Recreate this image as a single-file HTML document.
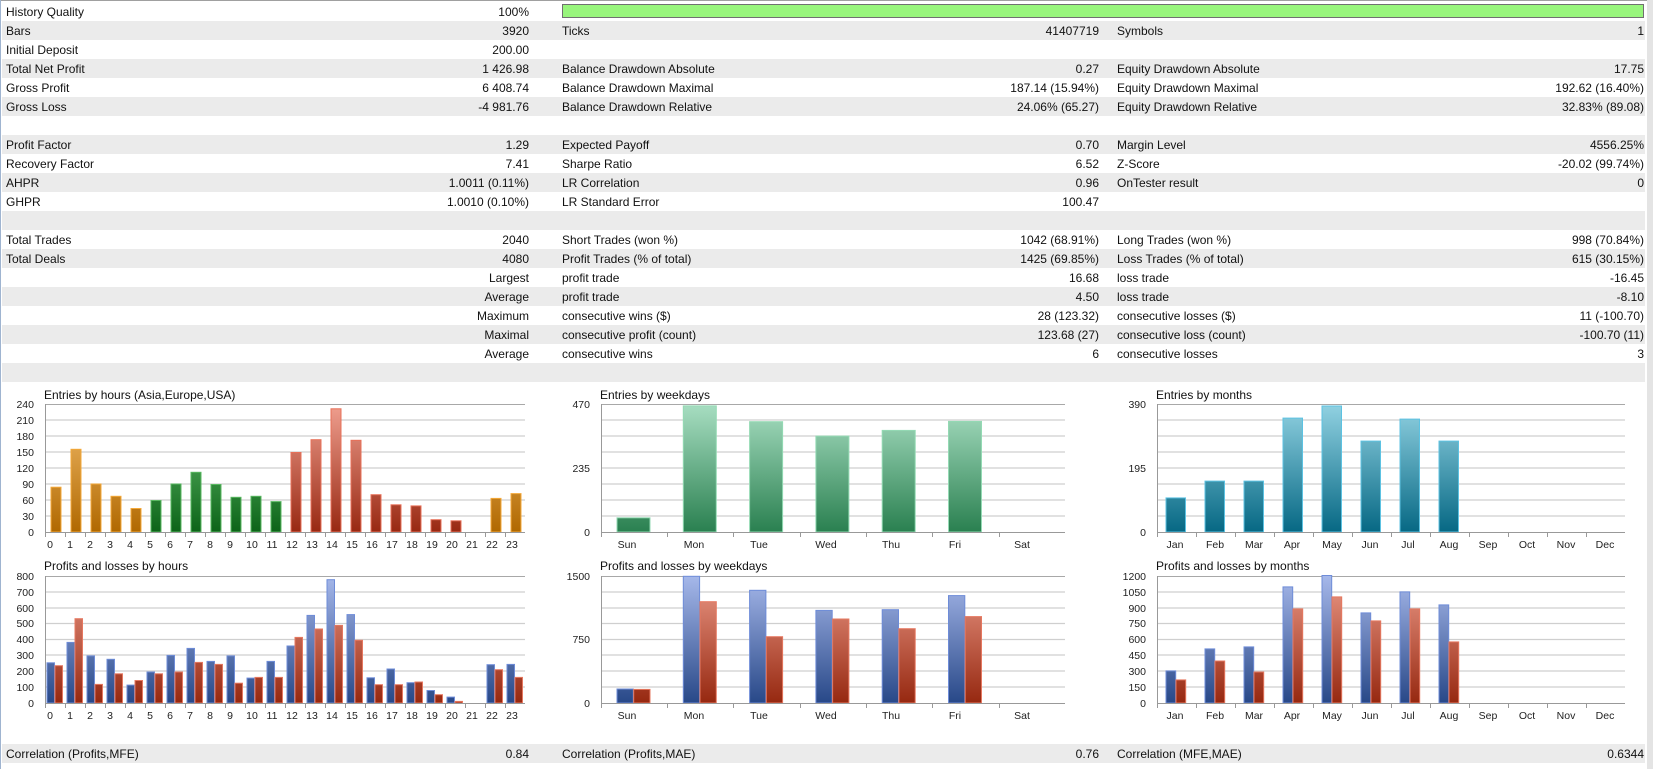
<!DOCTYPE html>
<html><head><meta charset="utf-8"><style>
html,body{margin:0;padding:0;background:#fff;width:1653px;height:769px;overflow:hidden}
svg{display:block;font-family:"Liberation Sans",Arial,sans-serif}
.t{font-size:12px;fill:#111}
.r{text-anchor:end}
.a{font-size:10.5px;fill:#222}
.ar{font-size:10.5px;fill:#222;text-anchor:end}
.am{font-size:10.5px;fill:#222;text-anchor:middle}
.g{stroke:#cfcfcf;stroke-width:1.3}
.gt{stroke:#a8a8a8;stroke-width:1}
.ax{stroke:#999;stroke-width:1;fill:none}
</style></head><body>
<svg width="1653" height="769" viewBox="0 0 1653 769">
<defs>
<linearGradient id="or" gradientUnits="userSpaceOnUse" x1="0" y1="404" x2="0" y2="532"><stop offset="0" stop-color="#f6c070"/><stop offset="1" stop-color="#b06800"/></linearGradient>
<linearGradient id="gr" gradientUnits="userSpaceOnUse" x1="0" y1="404" x2="0" y2="532"><stop offset="0" stop-color="#70c878"/><stop offset="1" stop-color="#0c6418"/></linearGradient>
<linearGradient id="rd" gradientUnits="userSpaceOnUse" x1="0" y1="404" x2="0" y2="532"><stop offset="0" stop-color="#f0a090"/><stop offset="1" stop-color="#982812"/></linearGradient>
<linearGradient id="wg" gradientUnits="userSpaceOnUse" x1="0" y1="404" x2="0" y2="532"><stop offset="0" stop-color="#a8dec2"/><stop offset="1" stop-color="#2a8050"/></linearGradient>
<linearGradient id="tl" gradientUnits="userSpaceOnUse" x1="0" y1="404" x2="0" y2="532"><stop offset="0" stop-color="#92d2e2"/><stop offset="1" stop-color="#066884"/></linearGradient>
<linearGradient id="bl" gradientUnits="userSpaceOnUse" x1="0" y1="576" x2="0" y2="703"><stop offset="0" stop-color="#a6b8ea"/><stop offset="1" stop-color="#284888"/></linearGradient>
<linearGradient id="rr" gradientUnits="userSpaceOnUse" x1="0" y1="576" x2="0" y2="703"><stop offset="0" stop-color="#ec9a88"/><stop offset="1" stop-color="#962810"/></linearGradient>
</defs>
<rect x="0" y="0" width="1653" height="769" fill="#fff"/>
<line x1="0" y1="0.5" x2="1647" y2="0.5" stroke="#a0a0a0"/>
<line x1="0.5" y1="0" x2="0.5" y2="769" stroke="#9fb4d0" stroke-width="1"/>
<rect x="1647" y="0" width="6" height="769" fill="#e4e4e4"/>
<!-- row bands -->
<g fill="#ebebeb">
<rect x="2" y="21" width="1643" height="19"/><rect x="2" y="59" width="1643" height="19"/><rect x="2" y="97" width="1643" height="19"/><rect x="2" y="135" width="1643" height="19"/><rect x="2" y="173" width="1643" height="19"/><rect x="2" y="211" width="1643" height="19"/><rect x="2" y="249" width="1643" height="19"/><rect x="2" y="287" width="1643" height="19"/><rect x="2" y="325" width="1643" height="19"/><rect x="2" y="363" width="1643" height="19"/><rect x="2" y="744" width="1643" height="19"/>
</g>
<rect x="562.5" y="4.5" width="1081" height="13" fill="#98f57c" stroke="#707070"/>
<g class="t">
<text x="6" y="16">History Quality</text><text class="r" x="529" y="16">100%</text>
<text x="6" y="35">Bars</text><text class="r" x="529" y="35">3920</text><text x="562" y="35">Ticks</text><text class="r" x="1099" y="35">41407719</text><text x="1117" y="35">Symbols</text><text class="r" x="1644" y="35">1</text>
<text x="6" y="54">Initial Deposit</text><text class="r" x="529" y="54">200.00</text>
<text x="6" y="73">Total Net Profit</text><text class="r" x="529" y="73">1 426.98</text><text x="562" y="73">Balance Drawdown Absolute</text><text class="r" x="1099" y="73">0.27</text><text x="1117" y="73">Equity Drawdown Absolute</text><text class="r" x="1644" y="73">17.75</text>
<text x="6" y="92">Gross Profit</text><text class="r" x="529" y="92">6 408.74</text><text x="562" y="92">Balance Drawdown Maximal</text><text class="r" x="1099" y="92">187.14 (15.94%)</text><text x="1117" y="92">Equity Drawdown Maximal</text><text class="r" x="1644" y="92">192.62 (16.40%)</text>
<text x="6" y="111">Gross Loss</text><text class="r" x="529" y="111">-4 981.76</text><text x="562" y="111">Balance Drawdown Relative</text><text class="r" x="1099" y="111">24.06% (65.27)</text><text x="1117" y="111">Equity Drawdown Relative</text><text class="r" x="1644" y="111">32.83% (89.08)</text>
<text x="6" y="149">Profit Factor</text><text class="r" x="529" y="149">1.29</text><text x="562" y="149">Expected Payoff</text><text class="r" x="1099" y="149">0.70</text><text x="1117" y="149">Margin Level</text><text class="r" x="1644" y="149">4556.25%</text>
<text x="6" y="168">Recovery Factor</text><text class="r" x="529" y="168">7.41</text><text x="562" y="168">Sharpe Ratio</text><text class="r" x="1099" y="168">6.52</text><text x="1117" y="168">Z-Score</text><text class="r" x="1644" y="168">-20.02 (99.74%)</text>
<text x="6" y="187">AHPR</text><text class="r" x="529" y="187">1.0011 (0.11%)</text><text x="562" y="187">LR Correlation</text><text class="r" x="1099" y="187">0.96</text><text x="1117" y="187">OnTester result</text><text class="r" x="1644" y="187">0</text>
<text x="6" y="206">GHPR</text><text class="r" x="529" y="206">1.0010 (0.10%)</text><text x="562" y="206">LR Standard Error</text><text class="r" x="1099" y="206">100.47</text>
<text x="6" y="244">Total Trades</text><text class="r" x="529" y="244">2040</text><text x="562" y="244">Short Trades (won %)</text><text class="r" x="1099" y="244">1042 (68.91%)</text><text x="1117" y="244">Long Trades (won %)</text><text class="r" x="1644" y="244">998 (70.84%)</text>
<text x="6" y="263">Total Deals</text><text class="r" x="529" y="263">4080</text><text x="562" y="263">Profit Trades (% of total)</text><text class="r" x="1099" y="263">1425 (69.85%)</text><text x="1117" y="263">Loss Trades (% of total)</text><text class="r" x="1644" y="263">615 (30.15%)</text>
<text class="r" x="529" y="282">Largest</text><text x="562" y="282">profit trade</text><text class="r" x="1099" y="282">16.68</text><text x="1117" y="282">loss trade</text><text class="r" x="1644" y="282">-16.45</text>
<text class="r" x="529" y="301">Average</text><text x="562" y="301">profit trade</text><text class="r" x="1099" y="301">4.50</text><text x="1117" y="301">loss trade</text><text class="r" x="1644" y="301">-8.10</text>
<text class="r" x="529" y="320">Maximum</text><text x="562" y="320">consecutive wins ($)</text><text class="r" x="1099" y="320">28 (123.32)</text><text x="1117" y="320">consecutive losses ($)</text><text class="r" x="1644" y="320">11 (-100.70)</text>
<text class="r" x="529" y="339">Maximal</text><text x="562" y="339">consecutive profit (count)</text><text class="r" x="1099" y="339">123.68 (27)</text><text x="1117" y="339">consecutive loss (count)</text><text class="r" x="1644" y="339">-100.70 (11)</text>
<text class="r" x="529" y="358">Average</text><text x="562" y="358">consecutive wins</text><text class="r" x="1099" y="358">6</text><text x="1117" y="358">consecutive losses</text><text class="r" x="1644" y="358">3</text>
<text x="6" y="758">Correlation (Profits,MFE)</text><text class="r" x="529" y="758">0.84</text><text x="562" y="758">Correlation (Profits,MAE)</text><text class="r" x="1099" y="758">0.76</text><text x="1117" y="758">Correlation (MFE,MAE)</text><text class="r" x="1644" y="758">0.6344</text>
<text x="44" y="399">Entries by hours (Asia,Europe,USA)</text>
<text x="44" y="570">Profits and losses by hours</text>
<text x="600" y="399">Entries by weekdays</text>
<text x="600" y="570">Profits and losses by weekdays</text>
<text x="1156" y="399">Entries by months</text>
<text x="1156" y="570">Profits and losses by months</text>
</g>

<!-- ===== Hours entries ===== -->
<path class="g" d="M45 420H525M45 436H525M45 452H525M45 468H525M45 484H525M45 500H525M45 516H525"/>
<path class="gt" d="M45 404.5H525"/>
<g class="ar"><text x="34" y="408">240</text><text x="34" y="424">210</text><text x="34" y="440">180</text><text x="34" y="456">150</text><text x="34" y="472">120</text><text x="34" y="488">90</text><text x="34" y="504">60</text><text x="34" y="520">30</text><text x="34" y="536">0</text></g>
<g stroke-width="1">
<g fill="url(#or)" stroke="#f4a838"><rect x="51" y="487.2" width="10" height="44.8"/><rect x="71" y="449.3" width="10" height="82.7"/><rect x="91" y="484" width="10" height="48"/><rect x="111" y="496.3" width="10" height="35.7"/><rect x="131" y="508.5" width="10" height="23.5"/><rect x="491" y="498.4" width="10" height="33.6"/><rect x="511" y="493.6" width="10" height="38.4"/></g>
<g fill="url(#gr)" stroke="#58b860"><rect x="151" y="500.5" width="10" height="31.5"/><rect x="171" y="484" width="10" height="48"/><rect x="191" y="472.3" width="10" height="59.7"/><rect x="211" y="484.5" width="10" height="47.5"/><rect x="231" y="497.3" width="10" height="34.7"/><rect x="251" y="496.3" width="10" height="35.7"/><rect x="271" y="501.6" width="10" height="30.4"/></g>
<g fill="url(#rd)" stroke="#e87058"><rect x="291" y="452.5" width="10" height="79.5"/><rect x="311" y="439.7" width="10" height="92.3"/><rect x="331" y="408.8" width="10" height="123.2"/><rect x="351" y="440.3" width="10" height="91.7"/><rect x="371" y="494.7" width="10" height="37.3"/><rect x="391" y="504.8" width="10" height="27.2"/><rect x="411" y="505.9" width="10" height="26.1"/><rect x="431" y="519.7" width="10" height="12.3"/><rect x="451" y="520.8" width="10" height="11.2"/></g>
</g>
<path class="ax" d="M45.5 404V537M45 532.5H525M65.5 532V537M85.5 532V537M105.5 532V537M125.5 532V537M145.5 532V537M165.5 532V537M185.5 532V537M205.5 532V537M225.5 532V537M245.5 532V537M265.5 532V537M285.5 532V537M305.5 532V537M325.5 532V537M345.5 532V537M365.5 532V537M385.5 532V537M405.5 532V537M425.5 532V537M445.5 532V537M465.5 532V537M485.5 532V537M505.5 532V537"/>
<g class="am"><text x="50" y="548">0</text><text x="70" y="548">1</text><text x="90" y="548">2</text><text x="110" y="548">3</text><text x="130" y="548">4</text><text x="150" y="548">5</text><text x="170" y="548">6</text><text x="190" y="548">7</text><text x="210" y="548">8</text><text x="230" y="548">9</text><text x="252" y="548">10</text><text x="272" y="548">11</text><text x="292" y="548">12</text><text x="312" y="548">13</text><text x="332" y="548">14</text><text x="352" y="548">15</text><text x="372" y="548">16</text><text x="392" y="548">17</text><text x="412" y="548">18</text><text x="432" y="548">19</text><text x="452" y="548">20</text><text x="472" y="548">21</text><text x="492" y="548">22</text><text x="512" y="548">23</text></g>

<!-- ===== Hours PnL ===== -->
<path class="g" d="M45 592H525M45 608H525M45 623.5H525M45 639.5H525M45 655H525M45 671H525M45 687H525"/>
<path class="gt" d="M45 576.5H525"/>
<g class="ar"><text x="34" y="580">800</text><text x="34" y="596">700</text><text x="34" y="612">600</text><text x="34" y="627">500</text><text x="34" y="643">400</text><text x="34" y="659">300</text><text x="34" y="675">200</text><text x="34" y="691">100</text><text x="34" y="707">0</text></g>
<g fill="url(#bl)" stroke="#6e8cd8">
<rect x="47" y="662.8" width="7.5" height="40.2"/><rect x="67" y="642.4" width="7.5" height="60.6"/><rect x="87" y="655.9" width="7.5" height="47.1"/><rect x="107" y="659.3" width="7.5" height="43.7"/><rect x="127" y="685.1" width="7.5" height="17.9"/><rect x="147" y="672" width="7.5" height="31"/><rect x="167" y="655.4" width="7.5" height="47.6"/><rect x="187" y="648.4" width="7.5" height="54.6"/><rect x="207" y="661.4" width="7.5" height="41.6"/><rect x="227" y="655.9" width="7.5" height="47.1"/><rect x="247" y="678.1" width="7.5" height="24.9"/><rect x="267" y="661.4" width="7.5" height="41.6"/><rect x="287" y="646" width="7.5" height="57"/><rect x="307" y="615.4" width="7.5" height="87.6"/><rect x="327" y="579.7" width="7.5" height="123.3"/><rect x="347" y="614.6" width="7.5" height="88.4"/><rect x="367" y="677.8" width="7.5" height="25.2"/><rect x="387" y="669" width="7.5" height="34"/><rect x="407" y="682.7" width="7.5" height="20.3"/><rect x="427" y="690.5" width="7.5" height="12.5"/><rect x="447" y="697.1" width="7.5" height="5.9"/><rect x="487" y="664.7" width="7.5" height="38.3"/><rect x="507" y="664.4" width="7.5" height="38.6"/>
</g>
<g fill="url(#rr)" stroke="#e67860">
<rect x="55" y="665.7" width="7.5" height="37.3"/><rect x="75" y="618.7" width="7.5" height="84.3"/><rect x="95" y="684.4" width="7.5" height="18.6"/><rect x="115" y="673.8" width="7.5" height="29.2"/><rect x="135" y="680.5" width="7.5" height="22.5"/><rect x="155" y="673.8" width="7.5" height="29.2"/><rect x="175" y="672" width="7.5" height="31"/><rect x="195" y="662.4" width="7.5" height="40.6"/><rect x="215" y="664.4" width="7.5" height="38.6"/><rect x="235" y="683.2" width="7.5" height="19.8"/><rect x="255" y="677.4" width="7.5" height="25.6"/><rect x="275" y="677.4" width="7.5" height="25.6"/><rect x="295" y="637.4" width="7.5" height="65.6"/><rect x="315" y="629" width="7.5" height="74"/><rect x="335" y="625.4" width="7.5" height="77.6"/><rect x="355" y="640.3" width="7.5" height="62.7"/><rect x="375" y="684.7" width="7.5" height="18.3"/><rect x="395" y="684.7" width="7.5" height="18.3"/><rect x="415" y="682" width="7.5" height="21"/><rect x="435" y="694.7" width="7.5" height="8.3"/><rect x="455" y="701.4" width="7.5" height="1.6"/><rect x="495" y="669.7" width="7.5" height="33.3"/><rect x="515" y="677.4" width="7.5" height="25.6"/>
</g>
<path class="ax" d="M45.5 576V708M45 703.5H525M65.5 703V708M85.5 703V708M105.5 703V708M125.5 703V708M145.5 703V708M165.5 703V708M185.5 703V708M205.5 703V708M225.5 703V708M245.5 703V708M265.5 703V708M285.5 703V708M305.5 703V708M325.5 703V708M345.5 703V708M365.5 703V708M385.5 703V708M405.5 703V708M425.5 703V708M445.5 703V708M465.5 703V708M485.5 703V708M505.5 703V708"/>
<g class="am"><text x="50" y="719">0</text><text x="70" y="719">1</text><text x="90" y="719">2</text><text x="110" y="719">3</text><text x="130" y="719">4</text><text x="150" y="719">5</text><text x="170" y="719">6</text><text x="190" y="719">7</text><text x="210" y="719">8</text><text x="230" y="719">9</text><text x="252" y="719">10</text><text x="272" y="719">11</text><text x="292" y="719">12</text><text x="312" y="719">13</text><text x="332" y="719">14</text><text x="352" y="719">15</text><text x="372" y="719">16</text><text x="392" y="719">17</text><text x="412" y="719">18</text><text x="432" y="719">19</text><text x="452" y="719">20</text><text x="472" y="719">21</text><text x="492" y="719">22</text><text x="512" y="719">23</text></g>

<!-- ===== Weekdays entries ===== -->
<path class="g" d="M601 420H1065M601 436H1065M601 452H1065M601 468H1065M601 484H1065M601 500H1065M601 516H1065"/>
<path class="gt" d="M601 404.5H1065"/>
<g class="ar"><text x="590" y="408">470</text><text x="590" y="472">235</text><text x="590" y="536">0</text></g>
<g fill="url(#wg)" stroke="#94dab4">
<rect x="617" y="517.8" width="33" height="14.2"/><rect x="683.3" y="405.9" width="33" height="126.1"/><rect x="749.6" y="421.7" width="33" height="110.3"/><rect x="815.9" y="436.1" width="33" height="95.9"/><rect x="882.2" y="430.4" width="33" height="101.6"/><rect x="948.5" y="421.4" width="33" height="110.6"/>
</g>
<path class="ax" d="M601.5 404V537M601 532.5H1065M667.5 532V537M733.5 532V537M800.5 532V537M866.5 532V537M932.5 532V537M999.5 532V537"/>
<g class="am"><text x="627" y="548">Sun</text><text x="694" y="548">Mon</text><text x="759" y="548">Tue</text><text x="826" y="548">Wed</text><text x="891" y="548">Thu</text><text x="955" y="548">Fri</text><text x="1022" y="548">Sat</text></g>

<!-- ===== Weekdays PnL ===== -->
<path class="g" d="M601 592H1065M601 608H1065M601 623.5H1065M601 639.5H1065M601 655H1065M601 671H1065M601 687H1065"/>
<path class="gt" d="M601 576.5H1065"/>
<g class="ar"><text x="590" y="580">1500</text><text x="590" y="643">750</text><text x="590" y="707">0</text></g>
<g fill="url(#bl)" stroke="#6e8cd8">
<rect x="617" y="689" width="16.3" height="14"/><rect x="683.3" y="576.3" width="16.3" height="126.7"/><rect x="749.6" y="590.3" width="16.3" height="112.7"/><rect x="815.9" y="610.4" width="16.3" height="92.6"/><rect x="882.2" y="609.7" width="16.3" height="93.3"/><rect x="948.5" y="595.6" width="16.3" height="107.4"/>
</g>
<g fill="url(#rr)" stroke="#e67860">
<rect x="633.7" y="689.4" width="16.3" height="13.6"/><rect x="700" y="601.7" width="16.3" height="101.3"/><rect x="766.3" y="636.7" width="16.3" height="66.3"/><rect x="832.6" y="619" width="16.3" height="84"/><rect x="898.9" y="628.7" width="16.3" height="74.3"/><rect x="965.2" y="616.6" width="16.3" height="86.4"/>
</g>
<path class="ax" d="M601.5 576V708M601 703.5H1065M667.5 703V708M733.5 703V708M800.5 703V708M866.5 703V708M932.5 703V708M999.5 703V708"/>
<g class="am"><text x="627" y="719">Sun</text><text x="694" y="719">Mon</text><text x="759" y="719">Tue</text><text x="826" y="719">Wed</text><text x="891" y="719">Thu</text><text x="955" y="719">Fri</text><text x="1022" y="719">Sat</text></g>

<!-- ===== Months entries ===== -->
<path class="g" d="M1157 420H1625M1157 436H1625M1157 452H1625M1157 468H1625M1157 484H1625M1157 500H1625M1157 516H1625"/>
<path class="gt" d="M1157 404.5H1625"/>
<g class="ar"><text x="1146" y="408">390</text><text x="1146" y="472">195</text><text x="1146" y="536">0</text></g>
<g fill="url(#tl)" stroke="#5cc2e2">
<rect x="1166" y="497.9" width="19.5" height="34.1"/><rect x="1205" y="481.1" width="19.5" height="50.9"/><rect x="1244" y="481.1" width="19.5" height="50.9"/><rect x="1283" y="418.1" width="19.5" height="113.9"/><rect x="1322" y="406" width="19.5" height="126"/><rect x="1361" y="441.1" width="19.5" height="90.9"/><rect x="1400" y="419.1" width="19.5" height="112.9"/><rect x="1439" y="441.1" width="19.5" height="90.9"/>
</g>
<path class="ax" d="M1157.5 404V537M1157 532.5H1625M1196.5 532V537M1235.5 532V537M1274.5 532V537M1313.5 532V537M1352.5 532V537M1391.5 532V537M1430.5 532V537M1469.5 532V537M1508.5 532V537M1547.5 532V537M1586.5 532V537"/>
<g class="am"><text x="1175" y="548">Jan</text><text x="1215" y="548">Feb</text><text x="1254" y="548">Mar</text><text x="1292" y="548">Apr</text><text x="1332" y="548">May</text><text x="1370" y="548">Jun</text><text x="1408" y="548">Jul</text><text x="1449" y="548">Aug</text><text x="1488" y="548">Sep</text><text x="1527" y="548">Oct</text><text x="1566" y="548">Nov</text><text x="1605" y="548">Dec</text></g>

<!-- ===== Months PnL ===== -->
<path class="g" d="M1157 592H1625M1157 608H1625M1157 623.5H1625M1157 639.5H1625M1157 655H1625M1157 671H1625M1157 687H1625"/>
<path class="gt" d="M1157 576.5H1625"/>
<g class="ar"><text x="1146" y="580">1200</text><text x="1146" y="596">1050</text><text x="1146" y="612">900</text><text x="1146" y="627">750</text><text x="1146" y="643">600</text><text x="1146" y="659">450</text><text x="1146" y="675">300</text><text x="1146" y="691">150</text><text x="1146" y="707">0</text></g>
<g fill="url(#bl)" stroke="#6e8cd8">
<rect x="1166" y="670.9" width="9.7" height="32.1"/><rect x="1205" y="648.9" width="9.7" height="54.1"/><rect x="1244" y="646.9" width="9.7" height="56.1"/><rect x="1283" y="586.9" width="9.7" height="116.1"/><rect x="1322" y="575.5" width="9.7" height="127.5"/><rect x="1361" y="612.9" width="9.7" height="90.1"/><rect x="1400" y="591.9" width="9.7" height="111.1"/><rect x="1439" y="604.9" width="9.7" height="98.1"/>
</g>
<g fill="url(#rr)" stroke="#e67860">
<rect x="1176" y="679.9" width="9.7" height="23.1"/><rect x="1215" y="661" width="9.7" height="42"/><rect x="1254" y="672" width="9.7" height="31"/><rect x="1293" y="608.9" width="9.7" height="94.1"/><rect x="1332" y="596.9" width="9.7" height="106.1"/><rect x="1371" y="620.9" width="9.7" height="82.1"/><rect x="1410" y="608.9" width="9.7" height="94.1"/><rect x="1449" y="641.9" width="9.7" height="61.1"/>
</g>
<path class="ax" d="M1157.5 576V708M1157 703.5H1625M1196.5 703V708M1235.5 703V708M1274.5 703V708M1313.5 703V708M1352.5 703V708M1391.5 703V708M1430.5 703V708M1469.5 703V708M1508.5 703V708M1547.5 703V708M1586.5 703V708"/>
<g class="am"><text x="1175" y="719">Jan</text><text x="1215" y="719">Feb</text><text x="1254" y="719">Mar</text><text x="1292" y="719">Apr</text><text x="1332" y="719">May</text><text x="1370" y="719">Jun</text><text x="1408" y="719">Jul</text><text x="1449" y="719">Aug</text><text x="1488" y="719">Sep</text><text x="1527" y="719">Oct</text><text x="1566" y="719">Nov</text><text x="1605" y="719">Dec</text></g>
</svg>
</body></html>
